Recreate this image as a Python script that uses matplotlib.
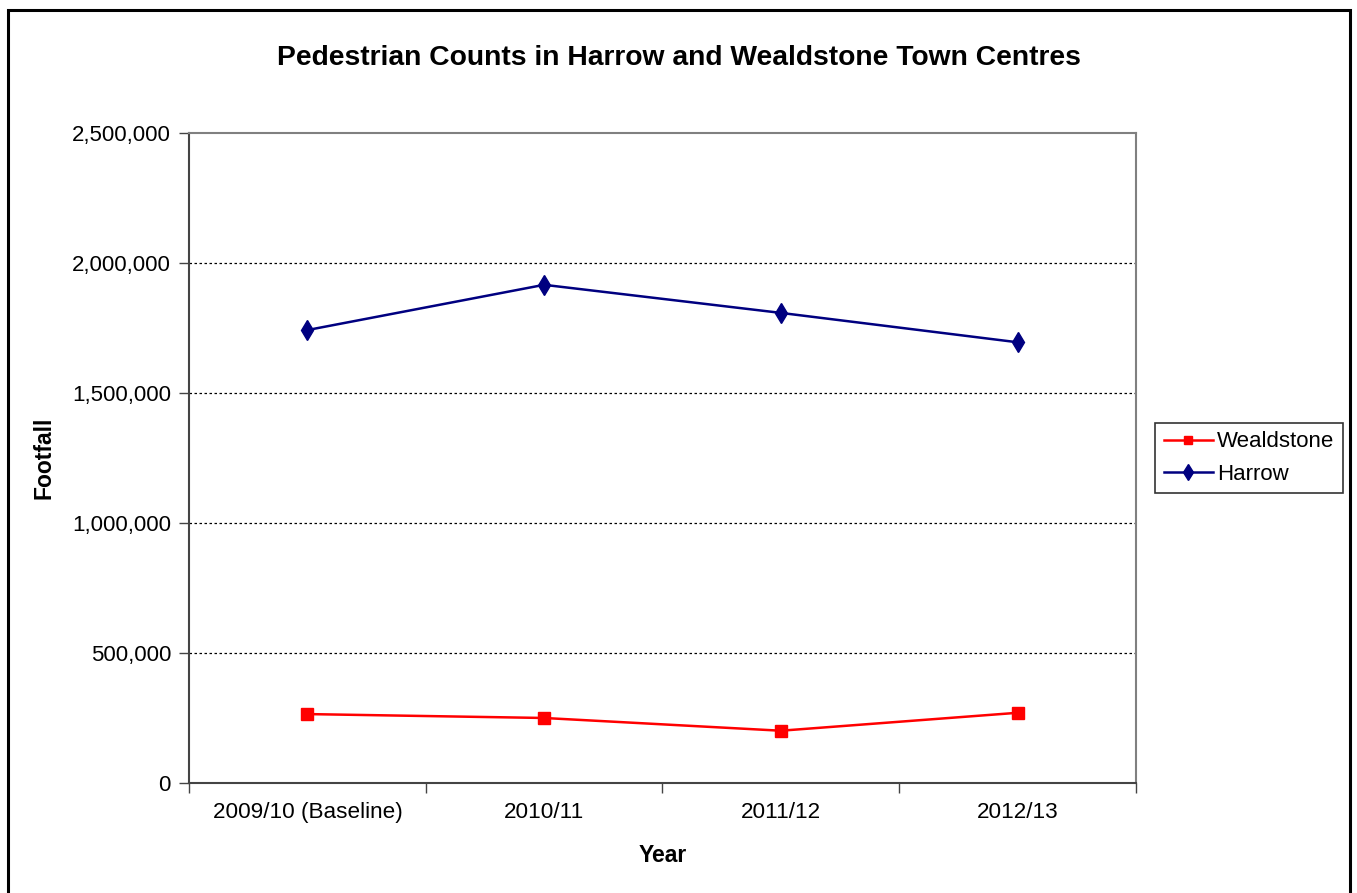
import numpy as np
import matplotlib.pyplot as plt
from matplotlib.ticker import FuncFormatter, FixedLocator
from matplotlib.patches import Rectangle

plt.rcParams['font.family'] = ['Liberation Sans', 'DejaVu Sans']

years = ['2009/10 (Baseline)', '2010/11', '2011/12', '2012/13']
wealdstone = [265000, 250000, 201000, 270000]
harrow = [1742000, 1916000, 1808000, 1695000]

fig = plt.figure(figsize=(13.57, 8.93), dpi=100)
ax = fig.add_axes([0.1393, 0.1232, 0.6978, 0.7279])

# outer chart frame
fig.patches.append(Rectangle((0.0059, -0.02), 0.9889, 1.0088, transform=fig.transFigure,
                             fill=False, edgecolor='black', linewidth=2.2))

x = np.arange(len(years))
ax.plot(x, wealdstone, color='#ff0000', marker='s', markersize=8, linewidth=1.8,
        label='Wealdstone', zorder=3)
ax.plot(x, harrow, color='#000080', marker='d', markersize=10, linewidth=1.8,
        label='Harrow', zorder=3)

ax.set_xlim(-0.5, len(years) - 0.5)
ax.set_ylim(0, 2500000)
ax.set_yticks(np.arange(0, 2500001, 500000))
ax.yaxis.set_major_formatter(FuncFormatter(lambda v, p: f'{int(v):,}'))
for v in range(500000, 2500000, 500000):
    ax.axhline(v, color='black', linestyle=(0, (2, 2)), linewidth=0.9, zorder=1)

ax.set_xticks(x)
ax.set_xticklabels(years)
ax.xaxis.set_minor_locator(FixedLocator(np.arange(-0.5, len(years), 1)))
ax.tick_params(axis='x', which='major', length=0, pad=14, labelsize=16.2)
ax.tick_params(axis='x', which='minor', length=7, width=1, color='#444444', direction='out')
ax.tick_params(axis='y', length=7, width=1, color='#444444', direction='out', pad=6, labelsize=16)

for s in ['left', 'bottom']:
    ax.spines[s].set_color('#444444')
    ax.spines[s].set_linewidth(1.5)
for s in ['top', 'right']:
    ax.spines[s].set_color('#808080')
    ax.spines[s].set_linewidth(1.5)

ax.set_xlabel('Year', fontsize=16.5, fontweight='bold', labelpad=15)
ax.set_ylabel('Footfall', fontsize=16.5, fontweight='bold', labelpad=12)
fig.text(0.5004, 0.935, 'Pedestrian Counts in Harrow and Wealdstone Town Centres',
         ha='center', va='center', fontsize=20.3, fontweight='bold')

leg = ax.legend(loc='center left', bbox_to_anchor=(1.02, 0.5), fontsize=16,
                frameon=True, fancybox=False, edgecolor='black', handlelength=2.2,
                handletextpad=0.2, borderpad=0.4, labelspacing=0.5, borderaxespad=0,
                markerscale=0.8)
leg.get_frame().set_linewidth(1.2)

fig.savefig('out.png', dpi=100)
